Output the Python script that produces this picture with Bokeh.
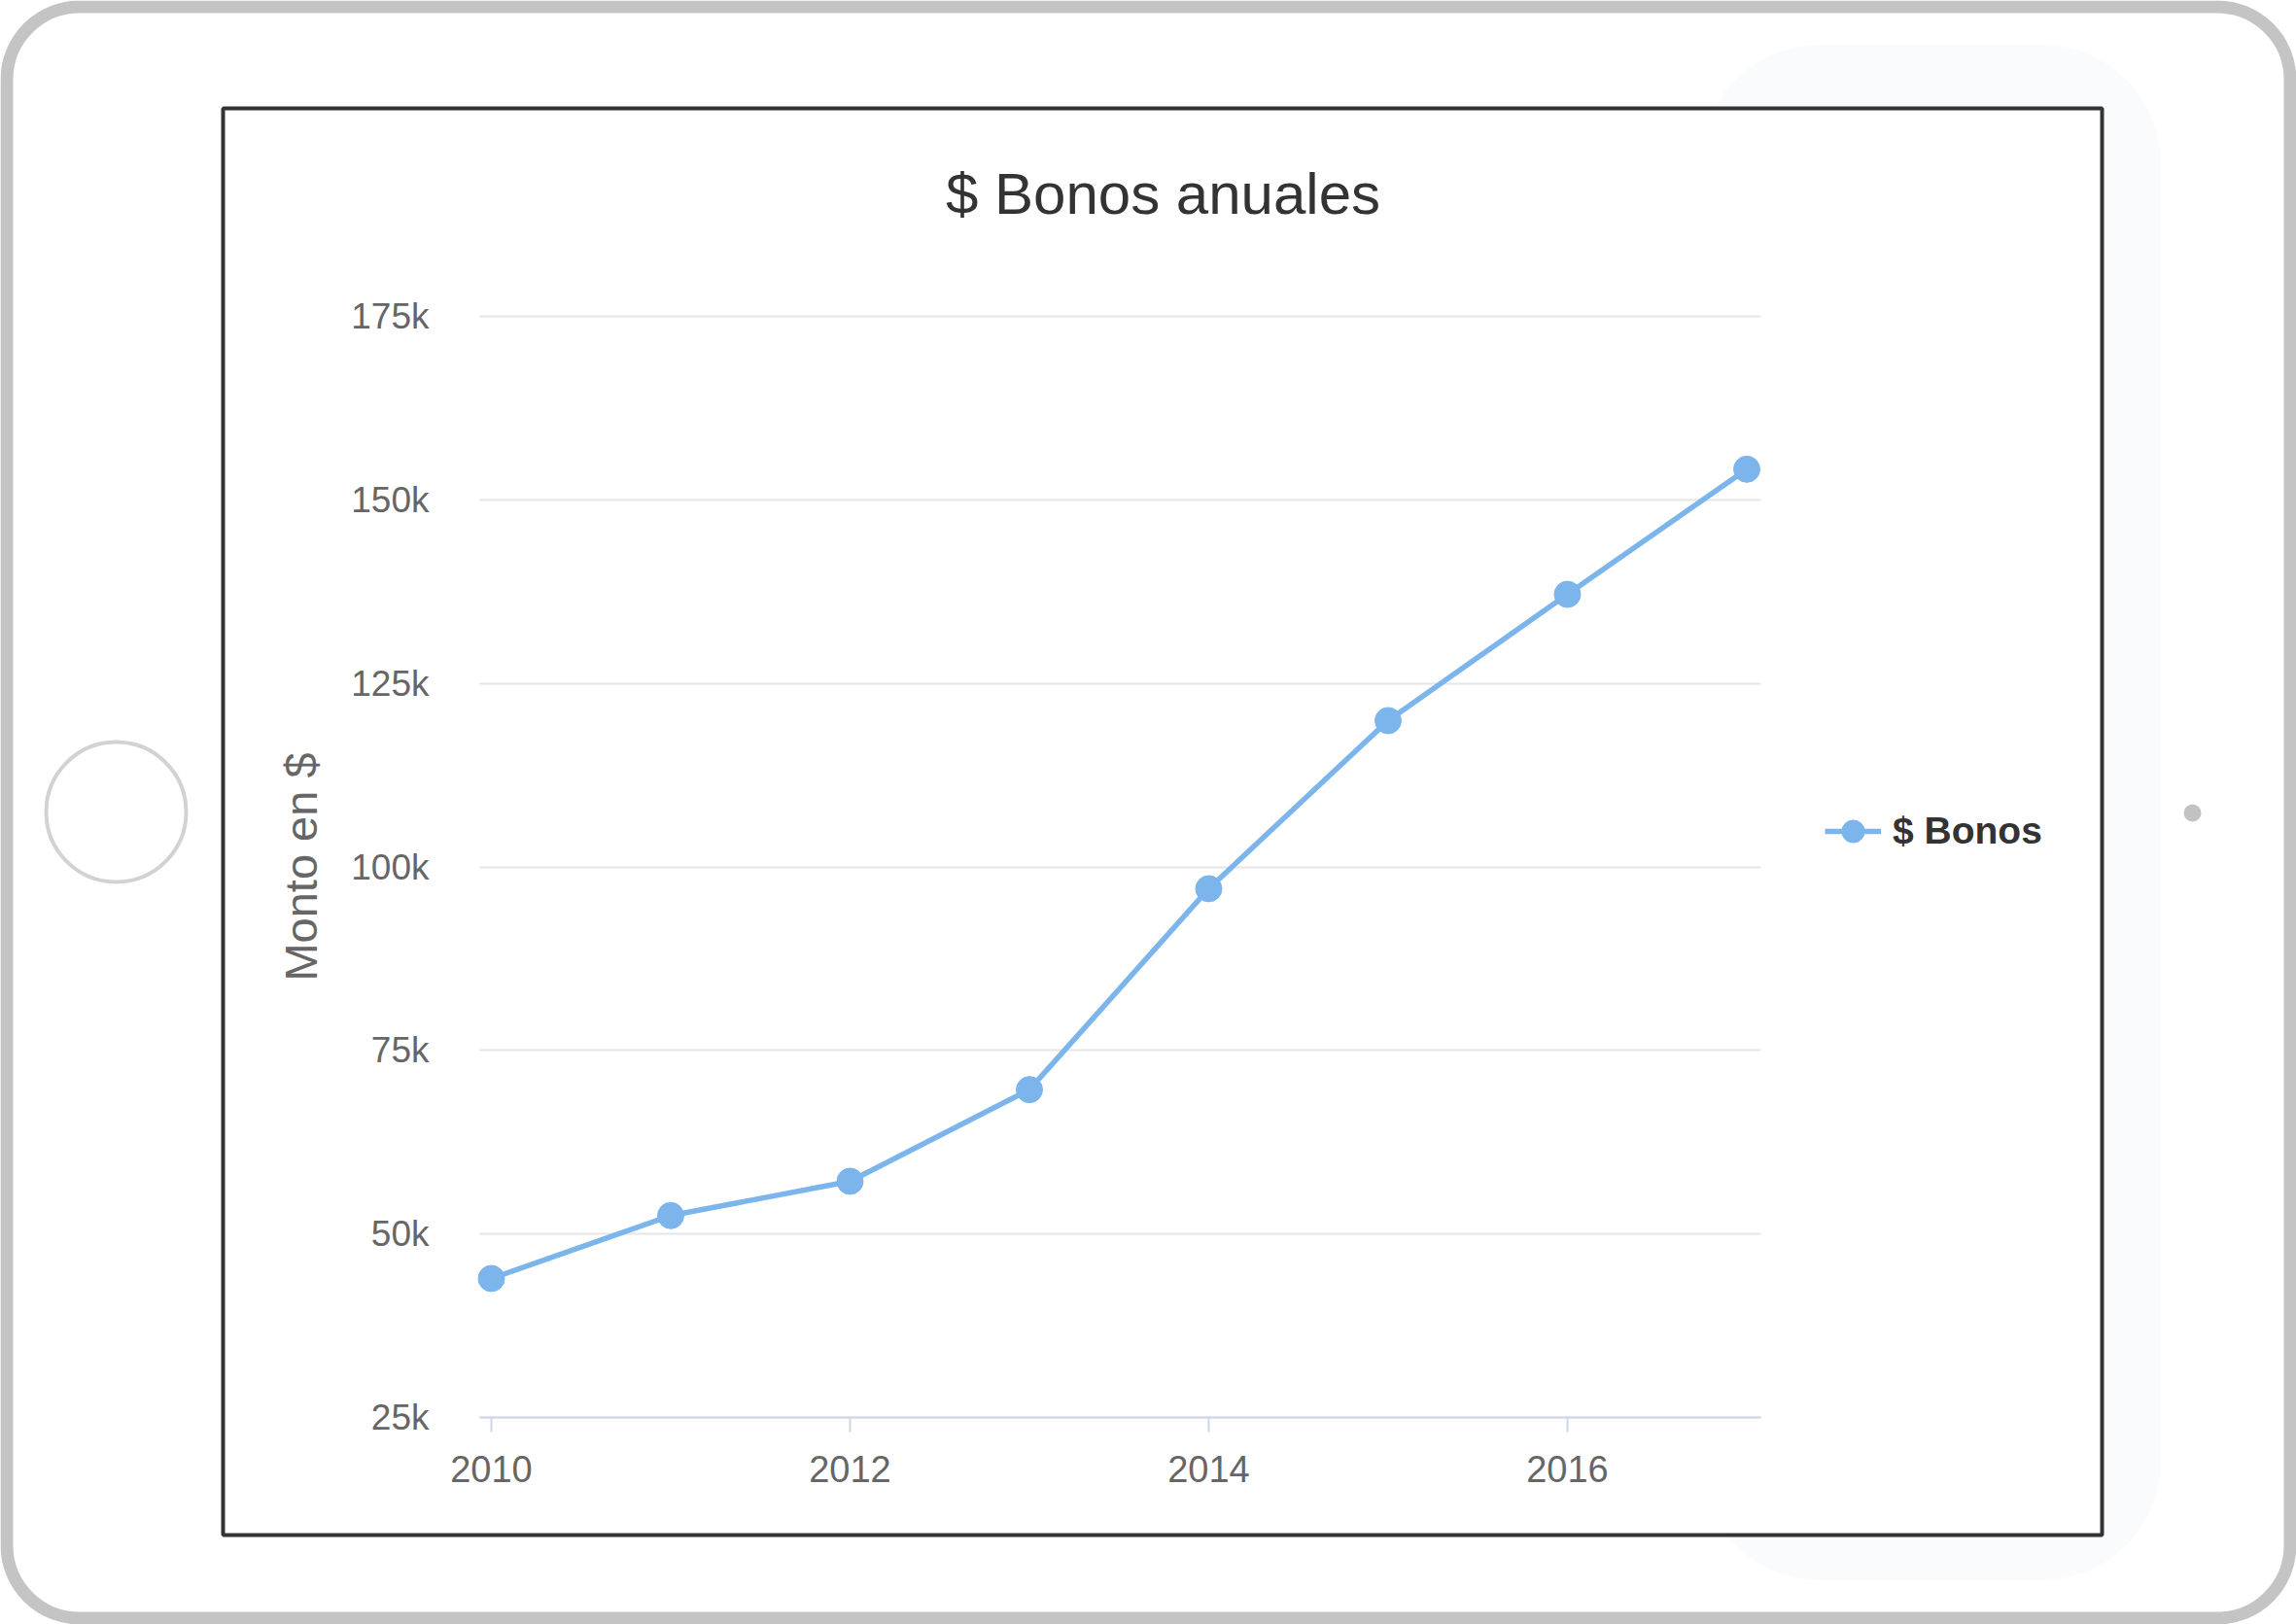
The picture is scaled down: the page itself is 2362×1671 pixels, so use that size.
from bokeh.plotting import figure
from bokeh.models import (BoxAnnotation, FixedTicker, NumeralTickFormatter, Legend,
                          LegendItem, Range1d, Label, Grid)
from bokeh.embed import file_html
from bokeh.resources import INLINE

# ---- data ----
years = [2010, 2011, 2012, 2013, 2014, 2015, 2016, 2017]
bonos = [43934, 52503, 57177, 69658, 97031, 119931, 137133, 154175]
y_ticks = [25000, 50000, 75000, 100000, 125000, 150000, 175000]
x_ticks = [2010, 2012, 2014, 2016]
y_min, y_max = 25000, 175000
title_text = "$ Bonos anuales"
y_title = "Monto en $"
series_name = "$ Bonos"

FONT = "Liberation Sans"
W, H = 2362, 1671          # canvas size
M = 0                      # observed page offset
LINE_COLOR = "#7cb5ec"

# ---- layout geometry (screen pixels) -> data ranges ----
PX_2010, PX_2016 = 505, 1612
PPY = (PX_2016 - PX_2010) / 6.0                 # pixels per year
x_start = 2010 - (PX_2010 - M) / PPY
x_end = x_start + W / PPY
PY_TOP, PY_BOT = 325, 1458                      # screen y of y_max / y_min
PPU = (PY_BOT - PY_TOP) / (y_max - y_min)       # pixels per unit
y_start = y_min - (M + H - PY_BOT) / PPU
y_end = y_start + H / PPU


def dx(sx):
    return x_start + (sx - M) / PPY


def dy(sy):
    return y_end - (sy - M) / PPU


PLOT_L, PLOT_R = dx(493), dx(1811)

p = figure(width=W, height=H, output_backend="svg", toolbar_location=None,
           x_range=Range1d(x_start, x_end), y_range=Range1d(y_start, y_end),
           min_border=0)
p.outline_line_color = None
p.background_fill_color = "white"
p.border_fill_color = "white"


def box(l, t, r, b, **kw):
    a = BoxAnnotation(left=dx(l), right=dx(r), top=dy(t), bottom=dy(b), **kw)
    p.add_layout(a)
    return a


# background decorations (tablet mockup)
box(1750, 46, 2222, 1625, fill_color="#fafbfc", fill_alpha=1, line_color=None,
    border_radius=120, level="image")
box(229, 111, 2162, 1579, fill_color="white", fill_alpha=1, line_color="#333333",
    line_width=4, line_alpha=1, level="image")

# y axis
yax = p.yaxis[0]
yax.fixed_location = PLOT_L
yax.bounds = (y_min, y_max)
yax.ticker = FixedTicker(ticks=y_ticks)
yax.formatter = NumeralTickFormatter(format="0a")
yax.axis_line_color = None
yax.major_tick_line_color = None
yax.minor_tick_line_color = None
yax.major_tick_out = 0
yax.major_tick_in = 0
yax.major_label_standoff = 52
yax.major_label_text_font = FONT
yax.major_label_text_font_size = "37px"
yax.major_label_text_color = "#666666"
yax.axis_label = y_title
yax.axis_label_text_font = FONT
yax.axis_label_text_font_size = "47px"
yax.axis_label_text_font_style = "normal"
yax.axis_label_text_color = "#666666"
yax.axis_label_standoff = 22

# x axis
xax = p.xaxis[0]
xax.fixed_location = y_min
xax.bounds = (PLOT_L, PLOT_R)
xax.ticker = FixedTicker(ticks=x_ticks)
xax.axis_line_color = "#ccd6eb"
xax.axis_line_width = 2
xax.major_tick_line_color = "#ccd6eb"
xax.major_tick_line_width = 2
xax.major_tick_out = 15
xax.major_tick_in = 0
xax.minor_tick_line_color = None
xax.major_label_standoff = 24
xax.major_label_text_font = FONT
xax.major_label_text_font_size = "38px"
xax.major_label_text_color = "#666666"

# grid
p.xgrid.visible = False
yg = p.ygrid[0]
yg.ticker = FixedTicker(ticks=y_ticks)
yg.grid_line_color = "#e6e6e6"
yg.grid_line_width = 2
yg.bounds = (y_min, y_max)
if "cross_bounds" in Grid.properties():
    yg.cross_bounds = (PLOT_L, PLOT_R)
else:
    yg.visible = False
    p.segment(x0=[PLOT_L] * len(y_ticks), x1=[PLOT_R] * len(y_ticks), y0=y_ticks,
              y1=y_ticks, line_color="#e6e6e6", line_width=2, level="underlay")

# title
p.add_layout(Label(x=dx(1196), y=dy(199), text=title_text, text_align="center",
                   text_baseline="middle", text_font=FONT, text_font_size="60px",
                   text_color="#333333"))

# series
lr = p.line(years, bonos, line_color=LINE_COLOR, line_width=5.5)
sr = p.scatter(years, bonos, size=27, fill_color=LINE_COLOR, line_color=LINE_COLOR)

legend = Legend(items=[LegendItem(label=series_name, renderers=[lr, sr])],
                location=(1877 - M, H + M - 887), glyph_width=58, glyph_height=64,
                label_text_font=FONT, label_text_font_size="39px",
                label_text_font_style="bold", label_text_color="#333333",
                border_line_color=None, background_fill_alpha=0,
                padding=10, margin=0, label_standoff=12)
p.add_layout(legend)

# tablet frame, home button, camera
box(6.5, 6.5, W - 6.5, H - 6.5, fill_alpha=0, line_color="#c4c4c4",
    line_width=13, line_alpha=1, border_radius=75, level="overlay")
box(47, 763, 191, 907, fill_alpha=0, line_color="#d2d2d2", line_width=4,
    line_alpha=1, border_radius=72, level="overlay")
box(2246, 827, 2264, 845, fill_color="#c2c2c2", fill_alpha=1, line_color=None,
    border_radius=9, level="overlay")

open("out.html", "w").write(file_html(p, INLINE))
